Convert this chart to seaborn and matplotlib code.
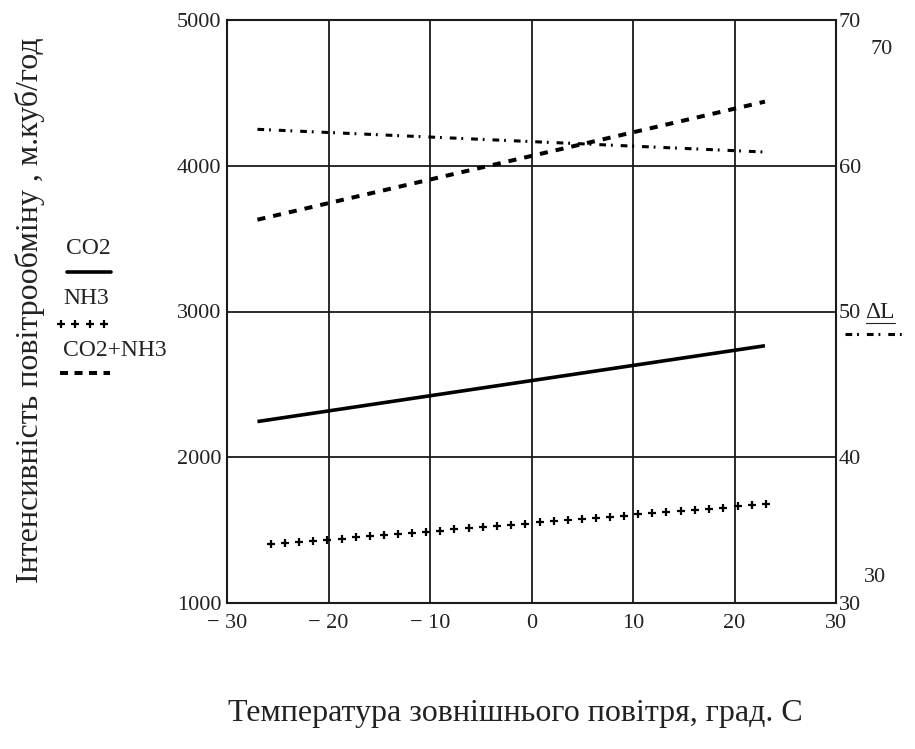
import matplotlib
matplotlib.use('Agg')
import matplotlib.pyplot as plt
import seaborn as sns
import pandas as pd
from matplotlib.lines import Line2D

# ---------------- data ----------------
temps = [-27, 23]                      # temperature range of the traces
co2 = [2245, 2765]                     # CO2, m3/h
co2_nh3 = [3630, 4440]                 # CO2+NH3, m3/h
delta_l = [62.5, 60.94]                # ΔL (right axis)

nh3_temps = [-25.7, -24.3, -22.9, -21.5, -20.1, -18.7, -17.3, -15.9, -14.5,
             -13.2, -11.8, -10.4, -9.0, -7.6, -6.2, -4.8, -3.4, -2.0, -0.6,
             0.8, 2.2, 3.6, 5.0, 6.4, 7.7, 9.1, 10.5, 11.9, 13.3, 14.7,
             16.1, 17.5, 18.9, 20.3, 21.7, 23.1]
nh3 = [1403, 1411, 1419, 1427, 1434, 1442, 1450, 1458, 1466, 1474, 1482,
       1490, 1497, 1505, 1513, 1521, 1529, 1537, 1545, 1553, 1560, 1568,
       1576, 1584, 1592, 1600, 1608, 1616, 1623, 1631, 1639, 1647, 1655,
       1663, 1671, 1678]

x_ticks = [-30, -20, -10, 0, 10, 20, 30]
x_tick_labels = ['− 30', '− 20', '− 10', '0', '10', '20', '30']
y_ticks = [1000, 2000, 3000, 4000, 5000]
y2_ticks = [30, 40, 50, 60, 70]

legend_names = ['CO2', 'NH3', 'CO2+NH3']
right_name = 'ΔL'
x_label = 'Температура зовнішнього повітря, град. С'
y_label = 'Інтенсивність повітрообміну , м.куб/год'

# ---------------- style ----------------
sns.set_theme(style='white')
plt.rcParams['font.family'] = ['Liberation Serif', 'DejaVu Serif']
TXT = '#222222'
TICK_FS = 16
LEG_FS = 17

W, H = 915, 749
fig = plt.figure(figsize=(W / 100, H / 100), dpi=100)
fx = lambda px: px / W
fy = lambda py: 1 - py / H

L, R, T, B = 227, 836, 20, 603
ax = fig.add_axes([fx(L), fy(B), (R - L) / W, (B - T) / H])

df_line = pd.DataFrame({'t': temps, 'co2': co2, 'sum': co2_nh3, 'dl': delta_l})
df_nh3 = pd.DataFrame({'t': nh3_temps, 'nh3': nh3})

sns.lineplot(data=df_line, x='t', y='co2', ax=ax, color='black', lw=2.6,
             solid_capstyle='butt')
sns.lineplot(data=df_line, x='t', y='sum', ax=ax, color='black', lw=2.9,
             dashes=False, linestyle=(0, (2.0, 2.0)))
sns.lineplot(data=df_nh3, x='t', y='nh3', ax=ax, color='black', lw=0,
             marker='+', markersize=5.5, markeredgewidth=1.6,
             markeredgecolor='black')

ax.set_xlim(-30, 30)
ax.set_ylim(1000, 5000)
ax.set_xticks(x_ticks)
ax.set_xticklabels(x_tick_labels)
ax.set_yticks(y_ticks)
ax.set_yticklabels([str(v) for v in y_ticks])
ax.grid(True, color='#1a1a1a', lw=1.3)
ax.set_axisbelow(True)
for s in ax.spines.values():
    s.set_color('#1a1a1a')
    s.set_linewidth(1.5)
ax.tick_params(axis='both', length=0, labelsize=TICK_FS, colors=TXT)
ax.tick_params(axis='x', pad=8)
ax.tick_params(axis='y', pad=4)
ax.set_xlabel('')
ax.set_ylabel('')

ax2 = ax.twinx()
sns.lineplot(data=df_line, x='t', y='dl', ax=ax2, color='black', lw=2.2,
             linestyle=(0, (2.2, 1.6, 0.6, 2.6)))
ax2.set_ylim(30, 70)
ax2.set_yticks(y2_ticks)
ax2.set_yticklabels([str(v) for v in y2_ticks])
ax2.tick_params(axis='y', length=0, labelsize=TICK_FS, colors=TXT, pad=2)
ax2.set_ylabel('')
ax2.grid(False)
for s in ax2.spines.values():
    s.set_visible(False)

# extra axis-limit labels (Mathcad style)
fig.text(fx(870), fy(50), '70', fontsize=TICK_FS, color=TXT, va='center', ha='left')
fig.text(fx(864), fy(578), '30', fontsize=TICK_FS, color=TXT, va='center', ha='left')

# axis titles
fig.text(fx(515), fy(713), x_label, fontsize=23, color=TXT, ha='center', va='center')
fig.text(fx(30), fy(310), y_label, fontsize=23, color=TXT, ha='center', va='center',
         rotation=90)

# left legend
fig.text(fx(88), fy(249), legend_names[0], fontsize=LEG_FS, color=TXT, ha='center', va='center')
fig.add_artist(Line2D([fx(67), fx(111)], [fy(272), fy(272)], color='black', lw=2.6,
                      transform=fig.transFigure))
fig.text(fx(86), fy(298), legend_names[1], fontsize=LEG_FS, color=TXT, ha='center', va='center')
fig.add_artist(Line2D([fx(61), fx(75), fx(90), fx(104)], [fy(324)] * 4, lw=0,
                      marker='+', markersize=5.5, markeredgewidth=1.6, color='black',
                      transform=fig.transFigure))
fig.text(fx(115), fy(350), legend_names[2], fontsize=LEG_FS, color=TXT, ha='center', va='center')
fig.add_artist(Line2D([fx(60), fx(110)], [fy(373), fy(373)], color='black', lw=2.9,
                      linestyle=(0, (2.0, 1.6)), transform=fig.transFigure))

# right legend
fig.text(fx(880), fy(312), right_name, fontsize=LEG_FS, color=TXT, ha='center', va='center')
fig.add_artist(Line2D([fx(866), fx(895)], [fy(323), fy(323)], color=TXT, lw=0.8,
                      transform=fig.transFigure))
fig.add_artist(Line2D([fx(845), fx(907)], [fy(334), fy(334)], color='black', lw=2.2,
                      linestyle=(0, (2.2, 1.6, 0.6, 2.6)), transform=fig.transFigure))

fig.savefig('out.png', dpi=100, facecolor='white')
